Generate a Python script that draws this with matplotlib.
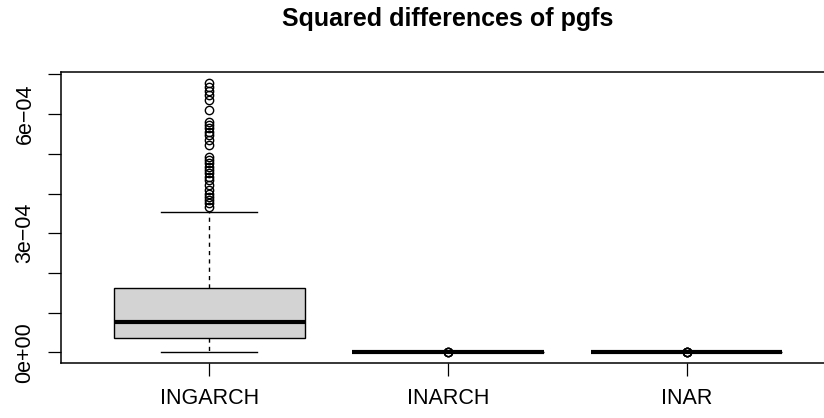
import matplotlib
matplotlib.use("Agg")
import matplotlib.pyplot as plt

plt.rcParams['font.family'] = ['Liberation Sans', 'DejaVu Sans']

# Boxplot statistics
models = ["INGARCH", "INARCH", "INAR"]
q1 = [0.35e-4, 0.0, 0.0]
medians = [0.76e-4, 0.0, 0.0]
q3 = [1.63e-4, 0.0, 0.0]
whislo = [0.02e-4, 0.0, 0.0]
whishi = [3.53e-4, 0.0, 0.0]
fliers_ingarch = [6.79e-4, 6.69e-4, 6.59e-4, 6.48e-4, 6.36e-4, 6.10e-4,
                  5.81e-4, 5.73e-4, 5.64e-4, 5.56e-4, 5.47e-4, 5.35e-4, 5.22e-4,
                  4.93e-4, 4.84e-4, 4.76e-4, 4.68e-4, 4.59e-4, 4.51e-4, 4.42e-4,
                  4.34e-4, 4.21e-4, 4.09e-4, 4.00e-4, 3.92e-4, 3.84e-4, 3.75e-4,
                  3.67e-4]
fliers_inarch = [0.008e-4, 0.01e-4, 0.013e-4]
fliers_inar = [0.008e-4, 0.01e-4, 0.012e-4, 0.015e-4]
yticks = [0, 1e-4, 2e-4, 3e-4, 4e-4, 5e-4, 6e-4, 7e-4]
ytick_labels = ["0e+00", "", "", "3e\u221204", "", "", "6e\u221204", ""]

fliers = [fliers_ingarch, fliers_inarch, fliers_inar]
stats = []
for i in range(len(models)):
    stats.append(dict(label=models[i], q1=q1[i], med=medians[i], q3=q3[i],
                      whislo=whislo[i], whishi=whishi[i], fliers=fliers[i]))

fig = plt.figure(figsize=(8.24, 4.18), dpi=100)
ax = fig.add_axes([61/824, 1 - 362.7/418, (835 - 61)/824, (362.7 - 72.3)/418])

ax.bxp(stats, positions=[1, 2, 3], widths=0.8, patch_artist=True,
       boxprops=dict(facecolor='#D3D3D3', edgecolor='black', linewidth=1.0),
       medianprops=dict(color='black', linewidth=3.0, solid_capstyle='butt'),
       whiskerprops=dict(color='black', linewidth=1.0, linestyle=(0, (3, 3))),
       capprops=dict(color='black', linewidth=1.0),
       capwidths=0.4,
       flierprops=dict(marker='o', markerfacecolor='none', markeredgecolor='black',
                       markersize=6, markeredgewidth=1.0))

ax.set_xlim(0.38, 3.62)
ax.set_ylim(-0.262e-4, 7.053e-4)

ax.set_yticks(yticks)
ax.set_yticklabels(ytick_labels, rotation=90, va='center')
ax.set_xticks([1, 2, 3])
ax.set_xticklabels(models)

ax.tick_params(axis='y', length=9.4, width=0.9, pad=9, labelsize=15.5)
ax.tick_params(axis='x', length=9.4, width=0.9, pad=9, labelsize=15.5)
for sp in ax.spines.values():
    sp.set_linewidth(1.1)

fig.text(448/824, 1 - 19/418, "Squared differences of pgfs", ha='center', va='center',
         fontsize=18, fontweight='bold')

fig.savefig("out.png", dpi=100)
